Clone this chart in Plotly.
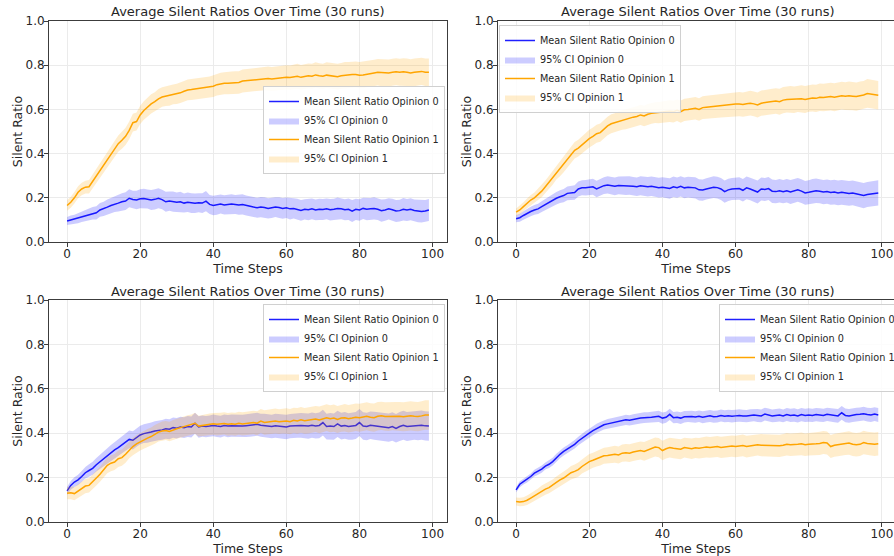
import plotly.graph_objects as go

# ---------------- data ----------------
steps = list(range(100))
panel_title = "Average Silent Ratios Over Time (30 runs)"
x_ticks = [0, 20, 40, 60, 80, 100]
y_ticks = [0.0, 0.2, 0.4, 0.6, 0.8, 1.0]
label_mean0 = "Mean Silent Ratio Opinion 0"
label_ci0 = "95% CI Opinion 0"
label_mean1 = "Mean Silent Ratio Opinion 1"
label_ci1 = "95% CI Opinion 1"

# Panel A (top-left)
mean_a0 = [0.095,0.100,0.102,0.108,0.115,0.120,0.125,0.130,0.132,0.145,
           0.150,0.158,0.165,0.172,0.176,0.182,0.185,0.198,0.192,0.190,
           0.196,0.197,0.195,0.190,0.193,0.198,0.192,0.182,0.185,0.183,
           0.180,0.182,0.176,0.180,0.176,0.175,0.178,0.176,0.185,0.170,
           0.165,0.168,0.172,0.168,0.170,0.172,0.170,0.168,0.170,0.165,
           0.162,0.158,0.155,0.158,0.156,0.152,0.155,0.158,0.156,0.152,
           0.155,0.150,0.152,0.148,0.143,0.148,0.146,0.150,0.145,0.148,
           0.147,0.150,0.146,0.148,0.152,0.150,0.146,0.148,0.140,0.148,
           0.145,0.152,0.148,0.150,0.152,0.148,0.142,0.145,0.150,0.146,
           0.140,0.142,0.148,0.145,0.148,0.143,0.140,0.138,0.140,0.145]
hw_a0 = [0.018,0.020,0.021,0.023,0.024,0.025,0.027,0.028,0.030,0.031,
         0.032,0.034,0.035,0.036,0.038,0.039,0.040,0.041,0.040,0.042,
         0.043,0.044,0.043,0.045,0.046,0.045,0.044,0.045,0.044,0.046,
         0.044,0.045,0.043,0.044,0.045,0.044,0.043,0.045,0.046,0.043,
         0.044,0.045,0.043,0.044,0.045,0.044,0.043,0.045,0.046,0.045,
         0.045,0.046,0.045,0.046,0.047,0.046,0.046,0.045,0.047,0.047,
         0.046,0.048,0.046,0.048,0.047,0.046,0.048,0.047,0.047,0.048,
         0.048,0.047,0.049,0.048,0.049,0.047,0.048,0.049,0.050,0.048,
         0.049,0.048,0.050,0.049,0.050,0.048,0.050,0.049,0.048,0.050,
         0.050,0.049,0.051,0.050,0.050,0.049,0.051,0.050,0.050,0.050]
mean_a1 = [0.165,0.180,0.200,0.225,0.240,0.248,0.250,0.275,0.300,0.320,
           0.345,0.375,0.395,0.420,0.445,0.460,0.478,0.505,0.540,0.545,
           0.575,0.595,0.610,0.625,0.635,0.648,0.656,0.660,0.662,0.668,
           0.670,0.675,0.682,0.688,0.690,0.692,0.695,0.698,0.700,0.700,
           0.705,0.712,0.716,0.718,0.718,0.720,0.722,0.722,0.728,0.730,
           0.732,0.734,0.736,0.738,0.740,0.740,0.738,0.740,0.742,0.744,
           0.745,0.744,0.748,0.750,0.745,0.748,0.752,0.750,0.756,0.752,
           0.750,0.755,0.752,0.748,0.748,0.752,0.755,0.755,0.758,0.758,
           0.755,0.756,0.760,0.762,0.765,0.768,0.766,0.765,0.765,0.768,
           0.770,0.768,0.770,0.768,0.765,0.768,0.770,0.772,0.768,0.768]
hw_a1 = [0.024,0.025,0.026,0.027,0.028,0.029,0.030,0.031,0.032,0.033,
         0.034,0.035,0.036,0.037,0.037,0.038,0.039,0.040,0.040,0.041,
         0.041,0.042,0.042,0.043,0.043,0.044,0.044,0.045,0.045,0.045,
         0.046,0.046,0.046,0.047,0.047,0.047,0.048,0.048,0.048,0.049,
         0.049,0.049,0.050,0.050,0.050,0.051,0.051,0.051,0.052,0.052,
         0.052,0.052,0.053,0.053,0.053,0.054,0.054,0.054,0.054,0.055,
         0.055,0.055,0.055,0.056,0.056,0.056,0.056,0.057,0.057,0.057,
         0.057,0.058,0.058,0.058,0.058,0.058,0.059,0.059,0.059,0.059,
         0.059,0.060,0.060,0.060,0.060,0.060,0.061,0.061,0.061,0.061,
         0.061,0.061,0.062,0.062,0.062,0.062,0.062,0.062,0.062,0.062]

# Panel B (top-right)
mean_b0 = [0.105,0.110,0.120,0.130,0.138,0.145,0.150,0.160,0.170,0.178,
           0.188,0.198,0.205,0.210,0.220,0.222,0.224,0.240,0.245,0.245,
           0.248,0.250,0.240,0.248,0.255,0.258,0.255,0.252,0.256,0.255,
           0.254,0.256,0.252,0.250,0.254,0.252,0.250,0.252,0.248,0.246,
           0.248,0.245,0.242,0.250,0.246,0.252,0.245,0.248,0.246,0.245,
           0.236,0.235,0.240,0.245,0.248,0.246,0.240,0.228,0.236,0.240,
           0.240,0.242,0.234,0.245,0.240,0.232,0.226,0.240,0.238,0.242,
           0.230,0.228,0.232,0.228,0.232,0.226,0.230,0.236,0.230,0.222,
           0.225,0.230,0.232,0.230,0.226,0.228,0.224,0.226,0.222,0.225,
           0.222,0.220,0.222,0.218,0.212,0.210,0.215,0.218,0.220,0.222]
hw_b0 = [0.016,0.018,0.019,0.020,0.021,0.022,0.023,0.024,0.025,0.026,
         0.027,0.028,0.029,0.030,0.031,0.032,0.033,0.034,0.034,0.035,
         0.035,0.036,0.037,0.037,0.038,0.039,0.039,0.040,0.040,0.041,
         0.041,0.042,0.042,0.042,0.043,0.043,0.044,0.044,0.044,0.045,
         0.045,0.045,0.046,0.046,0.046,0.046,0.047,0.047,0.047,0.048,
         0.048,0.048,0.048,0.049,0.049,0.049,0.050,0.050,0.050,0.050,
         0.050,0.051,0.051,0.051,0.051,0.052,0.052,0.052,0.052,0.052,
         0.053,0.053,0.053,0.053,0.053,0.054,0.054,0.054,0.054,0.054,
         0.054,0.055,0.055,0.055,0.055,0.055,0.055,0.056,0.056,0.056,
         0.056,0.056,0.056,0.056,0.057,0.057,0.057,0.057,0.057,0.057]
mean_b1 = [0.135,0.145,0.160,0.175,0.190,0.200,0.215,0.230,0.250,0.270,
           0.290,0.315,0.330,0.350,0.370,0.395,0.415,0.425,0.440,0.455,
           0.468,0.478,0.490,0.495,0.510,0.525,0.535,0.540,0.548,0.552,
           0.555,0.560,0.565,0.568,0.575,0.570,0.578,0.582,0.585,0.585,
           0.588,0.590,0.592,0.590,0.596,0.590,0.598,0.600,0.602,0.605,
           0.600,0.608,0.610,0.612,0.615,0.614,0.616,0.618,0.620,0.622,
           0.625,0.624,0.622,0.626,0.628,0.625,0.620,0.628,0.632,0.634,
           0.636,0.638,0.635,0.642,0.645,0.646,0.644,0.648,0.648,0.645,
           0.650,0.652,0.650,0.655,0.654,0.656,0.658,0.655,0.660,0.662,
           0.660,0.662,0.660,0.658,0.662,0.665,0.672,0.670,0.668,0.664]
hw_b1 = [0.017,0.019,0.020,0.022,0.023,0.024,0.026,0.027,0.028,0.030,
         0.031,0.032,0.033,0.034,0.035,0.036,0.037,0.038,0.038,0.039,
         0.040,0.040,0.041,0.041,0.042,0.042,0.043,0.043,0.044,0.044,
         0.045,0.045,0.045,0.046,0.046,0.046,0.047,0.047,0.047,0.048,
         0.048,0.048,0.049,0.049,0.049,0.050,0.050,0.050,0.051,0.051,
         0.051,0.052,0.052,0.052,0.053,0.053,0.053,0.054,0.054,0.054,
         0.055,0.055,0.055,0.056,0.056,0.056,0.057,0.057,0.057,0.058,
         0.058,0.058,0.059,0.059,0.059,0.060,0.060,0.060,0.061,0.061,
         0.061,0.061,0.062,0.062,0.062,0.062,0.063,0.063,0.063,0.063,
         0.063,0.064,0.064,0.064,0.064,0.064,0.065,0.065,0.065,0.065]

# Panel C (bottom-left)
mean_c0 = [0.140,0.165,0.180,0.190,0.205,0.222,0.232,0.242,0.258,0.272,
           0.285,0.298,0.312,0.325,0.335,0.348,0.360,0.372,0.368,0.380,
           0.392,0.398,0.400,0.405,0.410,0.412,0.415,0.420,0.418,0.425,
           0.422,0.428,0.425,0.430,0.428,0.445,0.428,0.432,0.430,0.432,
           0.435,0.432,0.430,0.435,0.432,0.434,0.433,0.435,0.432,0.434,
           0.435,0.438,0.440,0.436,0.435,0.432,0.430,0.434,0.432,0.430,
           0.428,0.432,0.434,0.436,0.435,0.434,0.432,0.436,0.433,0.435,
           0.448,0.430,0.432,0.430,0.442,0.432,0.435,0.430,0.432,0.435,
           0.448,0.432,0.430,0.436,0.434,0.432,0.430,0.428,0.425,0.430,
           0.422,0.430,0.436,0.430,0.432,0.435,0.434,0.436,0.433,0.432]
hw_c0 = [0.018,0.020,0.022,0.023,0.025,0.026,0.028,0.029,0.030,0.032,
         0.033,0.034,0.035,0.036,0.037,0.038,0.039,0.040,0.041,0.041,
         0.042,0.042,0.043,0.043,0.044,0.044,0.045,0.045,0.045,0.046,
         0.046,0.046,0.047,0.047,0.047,0.047,0.048,0.048,0.048,0.048,
         0.049,0.049,0.049,0.049,0.050,0.050,0.050,0.050,0.051,0.051,
         0.051,0.052,0.052,0.052,0.053,0.053,0.053,0.054,0.054,0.054,
         0.055,0.055,0.055,0.056,0.056,0.056,0.057,0.057,0.057,0.058,
         0.058,0.058,0.059,0.059,0.059,0.060,0.060,0.060,0.061,0.061,
         0.061,0.062,0.062,0.062,0.063,0.063,0.063,0.064,0.064,0.064,
         0.064,0.065,0.065,0.065,0.065,0.065,0.066,0.066,0.066,0.066]
mean_c1 = [0.130,0.132,0.128,0.140,0.150,0.162,0.165,0.180,0.198,0.215,
           0.235,0.255,0.265,0.270,0.285,0.290,0.305,0.325,0.340,0.352,
           0.362,0.370,0.378,0.385,0.395,0.405,0.410,0.412,0.408,0.415,
           0.420,0.425,0.430,0.435,0.438,0.445,0.432,0.435,0.438,0.440,
           0.442,0.440,0.442,0.444,0.440,0.442,0.440,0.445,0.442,0.444,
           0.446,0.448,0.445,0.455,0.448,0.450,0.452,0.455,0.452,0.455,
           0.455,0.452,0.458,0.455,0.460,0.456,0.458,0.462,0.464,0.460,
           0.466,0.470,0.465,0.468,0.462,0.468,0.470,0.465,0.468,0.472,
           0.470,0.474,0.476,0.472,0.470,0.476,0.478,0.475,0.475,0.478,
           0.476,0.476,0.474,0.476,0.478,0.476,0.475,0.478,0.482,0.482]
hw_c1 = [0.028,0.029,0.030,0.030,0.031,0.032,0.032,0.033,0.034,0.034,
         0.035,0.035,0.036,0.036,0.037,0.037,0.038,0.038,0.039,0.039,
         0.040,0.040,0.041,0.041,0.042,0.042,0.043,0.043,0.044,0.044,
         0.045,0.045,0.045,0.046,0.046,0.047,0.047,0.048,0.048,0.049,
         0.049,0.050,0.050,0.050,0.051,0.051,0.052,0.052,0.052,0.053,
         0.053,0.053,0.054,0.054,0.055,0.055,0.055,0.056,0.056,0.056,
         0.057,0.057,0.057,0.058,0.058,0.058,0.059,0.059,0.059,0.060,
         0.060,0.060,0.061,0.061,0.061,0.061,0.062,0.062,0.062,0.062,
         0.063,0.063,0.063,0.063,0.064,0.064,0.064,0.064,0.065,0.065,
         0.065,0.065,0.065,0.066,0.066,0.066,0.066,0.066,0.066,0.066]

# Panel D (bottom-right)
mean_d0 = [0.145,0.170,0.182,0.192,0.205,0.220,0.228,0.238,0.252,0.260,
           0.272,0.290,0.305,0.318,0.328,0.338,0.350,0.365,0.378,0.390,
           0.400,0.412,0.422,0.430,0.438,0.442,0.445,0.448,0.452,0.456,
           0.460,0.458,0.462,0.465,0.468,0.470,0.470,0.472,0.474,0.476,
           0.468,0.472,0.485,0.470,0.472,0.468,0.474,0.476,0.475,0.473,
           0.476,0.472,0.475,0.478,0.474,0.475,0.480,0.476,0.478,0.476,
           0.478,0.480,0.478,0.477,0.480,0.482,0.480,0.478,0.486,0.482,
           0.478,0.480,0.482,0.478,0.484,0.480,0.482,0.478,0.484,0.480,
           0.482,0.480,0.484,0.482,0.480,0.485,0.482,0.480,0.478,0.492,
           0.480,0.478,0.482,0.484,0.485,0.488,0.484,0.482,0.486,0.482]
hw_d0 = [0.012,0.013,0.013,0.014,0.014,0.015,0.015,0.016,0.016,0.017,
         0.017,0.017,0.018,0.018,0.018,0.019,0.019,0.019,0.020,0.020,
         0.020,0.021,0.021,0.021,0.021,0.022,0.022,0.022,0.022,0.023,
         0.023,0.023,0.023,0.024,0.024,0.024,0.024,0.024,0.025,0.025,
         0.025,0.025,0.025,0.025,0.026,0.026,0.026,0.026,0.026,0.026,
         0.026,0.027,0.027,0.027,0.027,0.027,0.027,0.027,0.028,0.028,
         0.028,0.028,0.028,0.028,0.028,0.028,0.029,0.029,0.029,0.029,
         0.029,0.029,0.029,0.029,0.029,0.030,0.030,0.030,0.030,0.030,
         0.030,0.030,0.030,0.030,0.030,0.030,0.031,0.031,0.031,0.031,
         0.031,0.031,0.031,0.031,0.031,0.031,0.031,0.031,0.031,0.031]
mean_d1 = [0.092,0.090,0.092,0.098,0.108,0.118,0.128,0.140,0.148,0.155,
           0.165,0.178,0.190,0.198,0.210,0.222,0.228,0.236,0.250,0.260,
           0.272,0.278,0.285,0.290,0.298,0.300,0.302,0.305,0.302,0.310,
           0.312,0.310,0.315,0.318,0.322,0.318,0.325,0.330,0.338,0.335,
           0.322,0.330,0.335,0.332,0.330,0.328,0.335,0.332,0.330,0.334,
           0.332,0.335,0.338,0.336,0.338,0.340,0.336,0.338,0.340,0.342,
           0.340,0.342,0.345,0.340,0.342,0.345,0.348,0.346,0.345,0.344,
           0.346,0.345,0.343,0.346,0.350,0.348,0.348,0.350,0.352,0.348,
           0.350,0.350,0.352,0.354,0.358,0.356,0.340,0.346,0.348,0.352,
           0.354,0.356,0.350,0.348,0.350,0.358,0.354,0.352,0.350,0.352]
hw_d1 = [0.018,0.019,0.020,0.021,0.022,0.022,0.023,0.024,0.025,0.026,
         0.026,0.027,0.028,0.029,0.029,0.030,0.031,0.032,0.032,0.033,
         0.034,0.034,0.035,0.036,0.036,0.037,0.037,0.038,0.038,0.039,
         0.039,0.040,0.040,0.041,0.041,0.042,0.042,0.043,0.043,0.043,
         0.044,0.044,0.044,0.045,0.045,0.045,0.045,0.046,0.046,0.046,
         0.046,0.047,0.047,0.047,0.047,0.047,0.048,0.048,0.048,0.048,
         0.048,0.049,0.049,0.049,0.049,0.049,0.049,0.050,0.050,0.050,
         0.050,0.050,0.050,0.050,0.051,0.051,0.051,0.051,0.051,0.051,
         0.051,0.051,0.052,0.052,0.052,0.052,0.052,0.052,0.052,0.052,
         0.052,0.053,0.053,0.053,0.053,0.053,0.053,0.053,0.053,0.053]

# ---------------- styling / layout ----------------
W, H = 894, 556
FONT = "DejaVu Sans"
BLUE, BLUE_FILL = "#1f1fff", "rgba(0,0,255,0.2)"
ORANGE, ORANGE_FILL = "#ffa500", "rgba(255,165,0,0.2)"
SPINE = "#3c3c3c"
TXT = "#262626"

def px_x(p):
    return p / W

def px_y(p):
    return 1 - p / H

panels = [
    dict(data=(mean_a0, hw_a0, mean_a1, hw_a1), box=(49, 447, 21, 242), xmax=103.95, right=True,
         legend=dict(x=px_x(445), y=px_y(130), xanchor="right", yanchor="middle")),
    dict(data=(mean_b0, hw_b0, mean_b1, hw_b1), box=(498, 894, 21, 242), xmax=103.3, right=False,
         legend=dict(x=px_x(499), y=px_y(25), xanchor="left", yanchor="top")),
    dict(data=(mean_c0, hw_c0, mean_c1, hw_c1), box=(49, 447, 300, 522), xmax=103.95, right=True,
         legend=dict(x=px_x(445), y=px_y(304), xanchor="right", yanchor="top")),
    dict(data=(mean_d0, hw_d0, mean_d1, hw_d1), box=(498, 894, 300, 522), xmax=103.3, right=False,
         legend=dict(x=px_x(719), y=px_y(304), xanchor="left", yanchor="top")),
]

fig = go.Figure()
layout = dict(
    width=W, height=H,
    margin=dict(l=0, r=0, t=0, b=0, autoexpand=False),
    paper_bgcolor="white", plot_bgcolor="white",
    font=dict(family=FONT, color=TXT),
    showlegend=True,
    annotations=[],
)

for i, p in enumerate(panels):
    n = "" if i == 0 else str(i + 1)
    xa, ya = "x" + n, "y" + n
    leg = "legend" + n
    m0, h0, m1, h1 = p["data"]
    lo0 = [m - h for m, h in zip(m0, h0)]
    up0 = [m + h for m, h in zip(m0, h0)]
    lo1 = [m - h for m, h in zip(m1, h1)]
    up1 = [m + h for m, h in zip(m1, h1)]

    fig.add_trace(go.Scatter(x=steps, y=m0, mode="lines", name=label_mean0,
                             line=dict(color=BLUE, width=1.5), xaxis=xa, yaxis=ya, legend=leg))
    fig.add_trace(go.Scatter(x=steps, y=lo0, mode="lines", line=dict(width=0, color=BLUE_FILL),
                             showlegend=False, hoverinfo="skip", xaxis=xa, yaxis=ya, legend=leg))
    fig.add_trace(go.Scatter(x=steps, y=up0, mode="lines", name=label_ci0, fill="tonexty",
                             fillcolor=BLUE_FILL, line=dict(width=0, color=BLUE_FILL),
                             xaxis=xa, yaxis=ya, legend=leg))
    fig.add_trace(go.Scatter(x=steps, y=m1, mode="lines", name=label_mean1,
                             line=dict(color=ORANGE, width=1.5), xaxis=xa, yaxis=ya, legend=leg))
    fig.add_trace(go.Scatter(x=steps, y=lo1, mode="lines", line=dict(width=0, color=ORANGE_FILL),
                             showlegend=False, hoverinfo="skip", xaxis=xa, yaxis=ya, legend=leg))
    fig.add_trace(go.Scatter(x=steps, y=up1, mode="lines", name=label_ci1, fill="tonexty",
                             fillcolor=ORANGE_FILL, line=dict(width=0, color=ORANGE_FILL),
                             xaxis=xa, yaxis=ya, legend=leg))

    l, r, t, b = p["box"]
    xkey, ykey = "xaxis" + n, "yaxis" + n
    layout[xkey] = dict(
        domain=[px_x(l), px_x(r)], anchor=ya, range=[-4.95, p["xmax"]],
        tickmode="array", tickvals=x_ticks, ticktext=[str(v) for v in x_ticks],
        showgrid=True, gridcolor="#ebebeb", gridwidth=1, zeroline=False,
        showline=True, linecolor=SPINE, linewidth=1, mirror=True,
        ticks="outside", ticklen=4, tickwidth=1, tickcolor=SPINE,
        ticklabelstandoff=-3,
        tickfont=dict(family=FONT, size=12, color=TXT),
        title=dict(text="Time Steps", font=dict(family=FONT, size=12.5, color=TXT), standoff=0),
    )
    layout[ykey] = dict(
        domain=[px_y(b), px_y(t)], anchor=xa, range=[0, 1],
        tickmode="array", tickvals=y_ticks, ticktext=["%.1f" % v for v in y_ticks],
        showgrid=True, gridcolor="#ebebeb", gridwidth=1, zeroline=False,
        showline=True, linecolor=SPINE, linewidth=1, mirror=True if p["right"] else False,
        ticks="outside", ticklen=4, tickwidth=1, tickcolor=SPINE,
        ticklabelstandoff=-3,
        tickfont=dict(family=FONT, size=12, color=TXT),
        title=dict(text="Silent Ratio", font=dict(family=FONT, size=12.5, color=TXT), standoff=0),
    )
    lg = dict(p["legend"])
    lg.update(bgcolor="rgba(255,255,255,0.85)", bordercolor="#d0d0d0", borderwidth=1,
              font=dict(family=FONT, size=9.7, color=TXT), traceorder="normal",
              itemwidth=30, tracegroupgap=0)
    layout[leg] = lg

    layout["annotations"].append(dict(
        text=panel_title, xref="paper", yref="paper",
        x=px_x((l + (r if p["right"] else 898)) / 2), y=px_y(t - 9),
        xanchor="center", yanchor="middle", showarrow=False,
        font=dict(family=FONT, size=13, color=TXT)))

fig.update_layout(**layout)
fig.write_html("out.html", config={"displayModeBar": False},
               post_script="document.body.style.margin='0px';")
